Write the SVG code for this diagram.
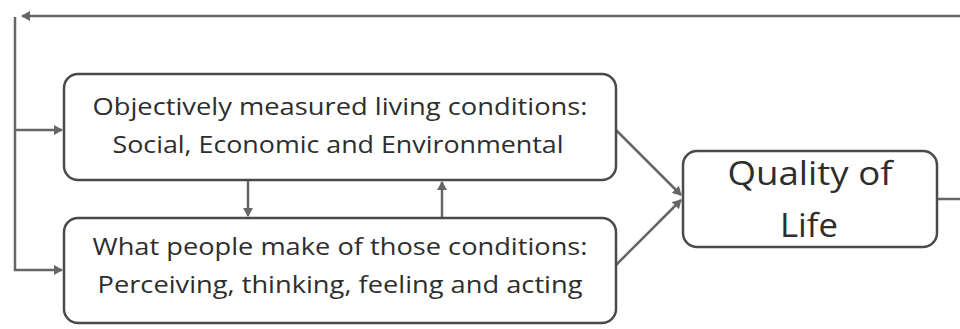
<svg xmlns="http://www.w3.org/2000/svg" width="960" height="329" viewBox="0 0 960 329">
<style>
.box{fill:#fff;stroke:#4a4a4a;stroke-width:2.5}
.t{font-family:"Open Sans","Liberation Sans",sans-serif;fill:#2e2e2e;text-anchor:middle;font-weight:500}
.s{font-size:24px}
.q{font-size:32px}
.c{fill:none;stroke:#666;stroke-width:2.5}
</style>
<defs>
<marker id="a" markerWidth="10" markerHeight="10" refX="8" refY="5" orient="auto" markerUnits="userSpaceOnUse">
<path d="M0,0 L9,5 L0,10 Z" fill="#666"/>
</marker>
</defs>
<rect width="960" height="329" fill="#fff"/>
<g id="connectors">
<path class="c" d="M960,16 H22" marker-end="url(#a)"/>
<path class="c" d="M15,17 V270 H62" marker-end="url(#a)"/>
<path class="c" d="M15,130 H62" marker-end="url(#a)"/>
<path class="c" d="M248,181 V216" marker-end="url(#a)"/>
<path class="c" d="M442,217 V182" marker-end="url(#a)"/>
<path class="c" d="M616,130 L681,195" marker-end="url(#a)"/>
<path class="c" d="M616,265 L681,200" marker-end="url(#a)"/>
<path class="c" d="M937,199 H960"/>
</g>
<g id="n1">
<rect class="box" x="64" y="74" width="552" height="106" rx="14"/>
<text class="t s" x="340" y="115" textLength="495" lengthAdjust="spacingAndGlyphs">Objectively measured living conditions:</text>
<text class="t s" x="338" y="153" textLength="451" lengthAdjust="spacingAndGlyphs">Social, Economic and Environmental</text>
</g>
<g id="n2">
<rect class="box" x="64" y="218" width="552" height="105" rx="14"/>
<text class="t s" x="340" y="255" textLength="495" lengthAdjust="spacingAndGlyphs">What people make of those conditions:</text>
<text class="t s" x="340" y="293" textLength="485" lengthAdjust="spacingAndGlyphs">Perceiving, thinking, feeling and acting</text>
</g>
<g id="n3">
<rect class="box" x="683" y="151" width="254" height="96" rx="14"/>
<text class="t q" x="810" y="185" textLength="165" lengthAdjust="spacingAndGlyphs">Quality of</text>
<text class="t q" x="809" y="237" textLength="58" lengthAdjust="spacingAndGlyphs">Life</text>
</g>
</svg>
